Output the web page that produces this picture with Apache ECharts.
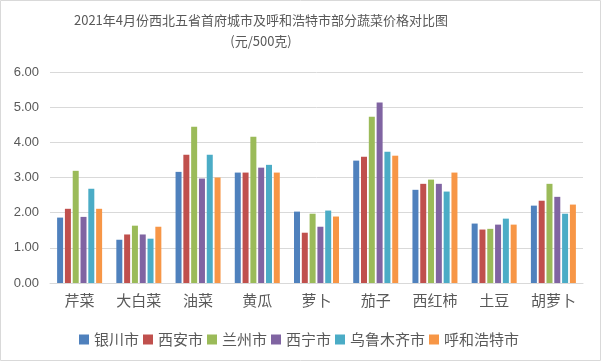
<!DOCTYPE html>
<html>
<head>
<meta charset="utf-8">
<script src="https://cdn.jsdelivr.net/npm/echarts@6/dist/echarts.min.js"></script>
<style>
html,body{margin:0;padding:0;background:#fff;}
#c{width:602px;height:362px;}
</style>
</head>
<body>
<div id="c"></div>
<script>
var categories = ['芹菜','大白菜','油菜','黄瓜','萝卜','茄子','西红柿','土豆','胡萝卜'];
var cities = ['银川市','西安市','兰州市','西宁市','乌鲁木齐市','呼和浩特市'];
var yinchuan = [1.86,1.23,3.16,3.14,2.03,3.48,2.65,1.69,2.20];
var xian     = [2.11,1.38,3.65,3.14,1.43,3.59,2.82,1.52,2.34];
var lanzhou  = [3.19,1.63,4.44,4.16,1.97,4.73,2.94,1.54,2.82];
var xining   = [1.88,1.38,2.97,3.28,1.60,5.13,2.82,1.66,2.45];
var wulumuqi = [2.68,1.26,3.65,3.36,2.06,3.73,2.60,1.83,1.97];
var huhehaote= [2.11,1.60,3.00,3.14,1.89,3.62,3.14,1.66,2.23];
var seriesValues = [yinchuan,xian,lanzhou,xining,wulumuqi,huhehaote];
var colors = ['#4F81BD','#C0504D','#9BBB59','#8064A2','#4BACC6','#F79646'];
var titleLines = ['2021年4月份西北五省首府城市及呼和浩特市部分蔬菜价格对比图','(元/500克)'];

var font = '"Noto Sans CJK SC", "Noto Sans", sans-serif';
var chart = echarts.init(document.getElementById('c'));
chart.setOption({
  animation: false,
  color: colors,
  graphic: [
    {type:'rect', shape:{x:0.5,y:0.5,width:600,height:360}, style:{fill:null, stroke:'#d9d9d9', lineWidth:1}, silent:true},
    {type:'text', x:261, y:20, style:{text:titleLines[0], fill:'#595959', font:'13px '+font, textAlign:'center', textVerticalAlign:'middle'}},
    {type:'text', x:261, y:41, style:{text:titleLines[1], fill:'#595959', font:'13px '+font, textAlign:'center', textVerticalAlign:'middle'}}
  ],
  legend: {
    data: cities, left: 74, top: 327, icon: 'rect', itemWidth: 10, itemHeight: 10, itemGap: 4,
    textStyle: {color:'#595959', fontSize:15, fontFamily: font}
  },
  grid: {left:50, right:19, top:72, bottom:79, containLabel:false},
  xAxis: {
    type:'category', data: categories,
    axisLine:{lineStyle:{color:'#d9d9d9'}}, axisTick:{show:false},
    axisLabel:{color:'#595959', fontSize:15, fontFamily:font, margin:10}
  },
  yAxis: {
    type:'value', min:0, max:6, interval:1,
    axisLine:{show:false}, axisTick:{show:false},
    splitLine:{lineStyle:{color:'#d9d9d9'}},
    axisLabel:{color:'#595959', fontSize:13, fontFamily:'"Liberation Sans", sans-serif', margin:11, formatter:function(v){return v.toFixed(2);}}
  },
  series: cities.map(function(name,i){
    return {name:name, type:'bar', data: seriesValues[i], barGap:'30%', barCategoryGap:'24%'};
  })
});
</script>
</body>
</html>
